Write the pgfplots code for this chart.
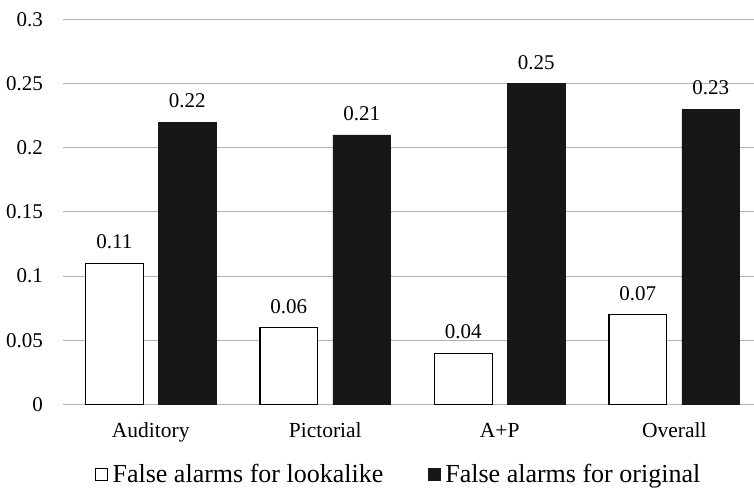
\documentclass[border=0pt]{standalone}
\usepackage{fontspec}
\setmainfont{Liberation Serif}
\usepackage{pgfplots}
\pgfplotsset{compat=1.18}
\definecolor{gridgray}{RGB}{178,178,178}
\definecolor{barblack}{RGB}{23,23,23}
\begin{document}
\begin{tikzpicture}
\begin{axis}[
  at={(0,0)}, anchor=south west,
  scale only axis,
  width=690.5bp, height=385.2bp,
  xmin=-0.5, xmax=3.457,
  ymin=0, ymax=0.3,
  xtick={0,1,2,3},
  xticklabels={Auditory,Pictorial,A+P,Overall},
  ytick={0,0.05,0.1,0.15,0.2,0.25,0.3},
  yticklabels={0,0.05,0.1,0.15,0.2,0.25,0.3},
  ymajorgrids,
  grid style={draw=gridgray, line width=1.1bp},
  axis line style={draw=none},
  major tick length=0pt,
  tick style={draw=none},
  yticklabel style={font=\fontsize{21bp}{24bp}\selectfont, anchor=east, inner sep=0pt, xshift=-20.5bp},
  xticklabel style={font=\fontsize{21.5bp}{24bp}\selectfont, anchor=base, inner sep=0pt, yshift=-32.5bp},
  ybar, bar width=57.8bp,
  clip=false,
  nodes near coords,
  every node near coord/.append style={font=\fontsize{21bp}{24bp}\selectfont, anchor=base, inner sep=0pt, yshift=14.4bp},
  /pgf/number format/.cd, fixed, precision=2, assume math mode=true,
  /pgfplots/.cd,
  legend columns=2,
  legend style={at={(0.4847,-0.1815)}, anchor=center, draw=none, fill=none,
    font=\fontsize{26bp}{29bp}\selectfont,
    /tikz/every odd column/.append style={column sep=3bp},
    /tikz/every even column/.append style={column sep=43bp},
    nodes={inner sep=1.5bp}},
]
\addplot[fill=white, draw=black, line width=1.1bp, bar shift=-36.4bp,
  legend image code/.code={\draw[fill=white,draw=black,line width=1bp] (0bp,-6.25bp) rectangle (12.5bp,6.25bp);}]
  coordinates {(0,0.11) (1,0.06) (2,0.04) (3,0.07)};
\addplot[fill=barblack, draw=barblack, line width=0.5bp, bar shift=36.4bp,
  legend image code/.code={\draw[fill=barblack,draw=barblack,line width=0.5bp] (0bp,-6.25bp) rectangle (12.5bp,6.25bp);}]
  coordinates {(0,0.22) (1,0.21) (2,0.25) (3,0.23)};
\legend{False alarms for lookalike, False alarms for original}
\end{axis}
\pgfresetboundingbox
\useasboundingbox (-63.5bp,-84.5bp) rectangle (690.5bp,404.5bp);
\end{tikzpicture}
\end{document}
